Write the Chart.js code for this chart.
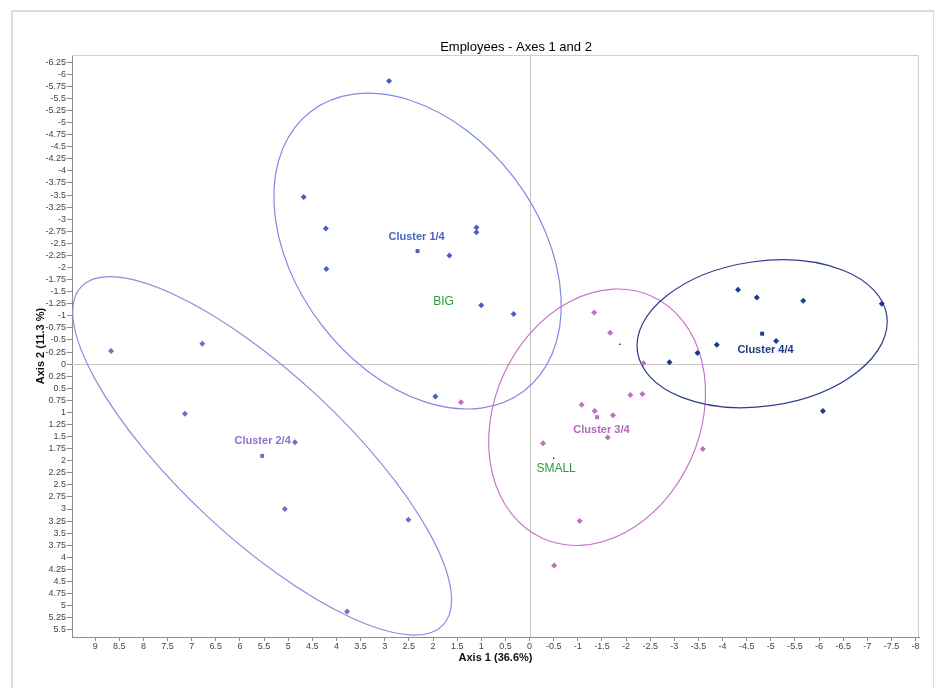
<!DOCTYPE html>
<html>
<head>
<meta charset="utf-8">
<script src="https://cdn.jsdelivr.net/npm/chart.js@4/dist/chart.umd.min.js"></script>
<style>
  html, body { margin: 0; padding: 0; background: #fff; }
  #frame { position: absolute; left: 11px; top: 10px; width: 920px; height: 690px;
           border: 2px solid #dcdcdc; border-bottom: none; }
  #wrap { position: absolute; left: 0; top: 0; width: 934px; height: 688px; }
</style>
</head>
<body>
<div id="frame"></div>
<div id="wrap"><canvas id="c" width="934" height="688"></canvas></div>
<script>
// Employees - factor map on axes 1 and 2, four clusters with their ellipses.

const cluster1X = [2.91, 4.68, 4.22, 1.10, 1.10, 4.21, 1.66, 1.00, 0.33, 1.95];
const cluster1Y = [-5.86, -3.46, -2.81, -2.83, -2.73, -1.97, -2.25, -1.22, -1.04, 0.67];
const cluster2X = [8.67, 6.78, 7.14, 4.86, 5.07, 2.51, 3.78];
const cluster2Y = [-0.27, -0.42, 1.03, 1.62, 3.00, 3.22, 5.12];
const cluster3X = [1.42, -1.34, -1.67, -2.36, -2.09, -2.34, -1.08, -1.35, -1.73, -1.62, -0.28, -3.59, -1.04, -0.51];
const cluster3Y = [0.79, -1.07, -0.65, -0.02, 0.64, 0.62, 0.84, 0.97, 1.06, 1.52, 1.64, 1.76, 3.25, 4.17];
const cluster4X = [-4.32, -4.71, -5.67, -7.30, -5.11, -3.88, -3.48, -2.90, -6.08];
const cluster4Y = [-1.54, -1.38, -1.31, -1.25, -0.48, -0.40, -0.23, -0.04, 0.97];

// cluster centres (also the ellipse centres)
const centreX = [2.32, 5.54, -1.40, -4.82];
const centreY = [-2.34, 1.90, 1.10, -0.63];
// ellipse semi-axes (axis units) and rotation in data space (degrees)
const ellipseA = [3.64, 5.13, 2.75, 2.61];
const ellipseB = [2.51, 1.69, 2.13, 1.50];
const ellipseAngle = [-52.6, -43, 65.7, 8.2];

const clusterNames = ['Cluster 1/4', 'Cluster 2/4', 'Cluster 3/4', 'Cluster 4/4'];
const clusterLabelX = [2.34, 5.53, -1.49, -4.89];
const clusterLabelY = [-2.63, 1.59, 1.36, -0.29];

// supplementary categories
const suppNames = ['BIG', 'SMALL'];
const suppX = [-1.87, -0.50];
const suppY = [-0.41, 1.95];
const suppLabelX = [1.78, -0.55];
const suppLabelY = [-1.29, 2.17];

const xTicks = [9, 8.5, 8, 7.5, 7, 6.5, 6, 5.5, 5, 4.5, 4, 3.5, 3, 2.5, 2, 1.5, 1, 0.5, 0,
  -0.5, -1, -1.5, -2, -2.5, -3, -3.5, -4, -4.5, -5, -5.5, -6, -6.5, -7, -7.5, -8];
const yTicks = [-6.25, -6, -5.75, -5.5, -5.25, -5, -4.75, -4.5, -4.25, -4, -3.75, -3.5, -3.25,
  -3, -2.75, -2.5, -2.25, -2, -1.75, -1.5, -1.25, -1, -0.75, -0.5, -0.25, 0, 0.25, 0.5, 0.75,
  1, 1.25, 1.5, 1.75, 2, 2.25, 2.5, 2.75, 3, 3.25, 3.5, 3.75, 4, 4.25, 4.5, 4.75, 5, 5.25, 5.5];

const pointColours = ['#4a5ec6', '#8464cc', '#c26ec6', '#1c3894'];
const ellipseColours = ['#7f8ae2', '#9a86dc', '#c774c9', '#2c3d8e'];
const labelColours = ['#4a64c2', '#8f6fd0', '#b565c0', '#1f3a88'];

const pts = (xs, ys) => xs.map((x, i) => ({ x, y: ys[i] }));

const datasets = [
  [cluster1X, cluster1Y], [cluster2X, cluster2Y], [cluster3X, cluster3Y], [cluster4X, cluster4Y],
].map(([xs, ys], i) => ({
  label: clusterNames[i],
  data: pts(xs, ys),
  pointStyle: 'rectRot',
  pointRadius: 3,
  backgroundColor: pointColours[i],
  borderColor: pointColours[i],
  borderWidth: 0,
}));
datasets.push({
  label: 'Centres',
  data: pts(centreX, centreY),
  pointStyle: 'rect',
  pointRadius: 2.8,
  backgroundColor: pointColours,
  borderColor: pointColours,
  borderWidth: 0,
});
datasets.push({
  label: 'Supplementary',
  data: pts(suppX, suppY),
  pointRadius: 0.8,
  backgroundColor: '#000',
  borderWidth: 0,
});

const decorations = {
  id: 'decorations',
  beforeDatasetsDraw(chart) {
    const { ctx, chartArea: a, scales: { x, y } } = chart;
    ctx.save();
    // zero lines
    ctx.strokeStyle = '#c4c4c4';
    ctx.lineWidth = 1;
    const x0 = Math.round(x.getPixelForValue(0)) + 0.5;
    const y0 = Math.round(y.getPixelForValue(0)) + 0.5;
    ctx.beginPath();
    ctx.moveTo(x0, a.top); ctx.lineTo(x0, a.bottom);
    ctx.moveTo(a.left, y0); ctx.lineTo(a.right, y0);
    ctx.stroke();
    // top/right frame
    ctx.strokeStyle = '#cfcfcf';
    ctx.beginPath();
    ctx.moveTo(a.left, a.top + 0.5); ctx.lineTo(a.right - 0.5, a.top + 0.5); ctx.lineTo(a.right - 0.5, a.bottom);
    ctx.stroke();
    // cluster ellipses, drawn in data space through the scales
    ctx.beginPath();
    ctx.rect(a.left, a.top, a.right - a.left, a.bottom - a.top);
    ctx.clip();
    const sx = x.getPixelForValue(1) - x.getPixelForValue(0);
    const sy = y.getPixelForValue(1) - y.getPixelForValue(0);
    for (let i = 0; i < centreX.length; i++) {
      ctx.save();
      ctx.translate(x.getPixelForValue(centreX[i]), y.getPixelForValue(centreY[i]));
      ctx.scale(sx, sy);
      ctx.rotate(ellipseAngle[i] * Math.PI / 180);
      ctx.beginPath();
      ctx.ellipse(0, 0, ellipseA[i], ellipseB[i], 0, 0, Math.PI * 2);
      ctx.restore();
      ctx.strokeStyle = ellipseColours[i];
      ctx.lineWidth = 1.2;
      ctx.stroke();
    }
    ctx.restore();
  },
  afterDatasetsDraw(chart) {
    const { ctx, scales: { x, y } } = chart;
    ctx.save();
    ctx.textAlign = 'center';
    ctx.textBaseline = 'middle';
    ctx.font = 'bold 11px "Liberation Sans", Arial, sans-serif';
    clusterNames.forEach((t, i) => {
      ctx.fillStyle = labelColours[i];
      ctx.fillText(t, x.getPixelForValue(clusterLabelX[i]), y.getPixelForValue(clusterLabelY[i]));
    });
    ctx.font = '12px "Liberation Sans", Arial, sans-serif';
    ctx.fillStyle = '#2a9e3c';
    suppNames.forEach((t, i) => {
      ctx.fillText(t, x.getPixelForValue(suppLabelX[i]), y.getPixelForValue(suppLabelY[i]));
    });
    // chart title
    ctx.fillStyle = '#000';
    ctx.font = '13px "Liberation Sans", Arial, sans-serif';
    ctx.fillText('Employees - Axes 1 and 2', 516, 47);
    ctx.restore();
  },
};

const tickFont = { family: '"Liberation Sans", Arial, sans-serif', size: 9 };
const titleFont = { family: '"Liberation Sans", Arial, sans-serif', size: 11, weight: 'bold' };

new Chart(document.getElementById('c'), {
  type: 'scatter',
  data: { datasets },
  plugins: [decorations],
  options: {
    responsive: false,
    animation: false,
    layout: { padding: { left: 14, right: 15, top: 55, bottom: 0 } },
    plugins: { legend: { display: false }, tooltip: { enabled: false } },
    scales: {
      x: {
        type: 'linear',
        reverse: true,
        min: -8.07,
        max: 9.48,
        afterBuildTicks: (s) => { s.ticks = xTicks.map(v => ({ value: v })); },
        afterFit: (s) => { s.height = 51; },
        border: { color: '#8c8c8c', width: 1 },
        grid: { drawOnChartArea: false, tickLength: 4, color: '#8c8c8c' },
        ticks: { autoSkip: false, maxRotation: 0, padding: 0, color: '#444', font: tickFont,
                 callback: (v) => String(v) },
        title: { display: true, text: 'Axis 1 (36.6%)', color: '#111', font: titleFont,
                 padding: { top: 0, bottom: 23 } },
      },
      y: {
        type: 'linear',
        reverse: true,
        min: -6.4,
        max: 5.65,
        afterBuildTicks: (s) => { s.ticks = yTicks.map(v => ({ value: v })); },
        afterFit: (s) => { s.width = 58; },
        border: { color: '#8c8c8c', width: 1 },
        grid: { drawOnChartArea: false, tickLength: 5, color: '#8c8c8c' },
        ticks: { autoSkip: false, padding: 1, color: '#444', font: tickFont,
                 callback: (v) => String(v) },
        title: { display: true, text: 'Axis 2 (11.3 %)', color: '#111', font: titleFont,
                 padding: { top: 20, bottom: 0 } },
      },
    },
  },
});
</script>
</body>
</html>
